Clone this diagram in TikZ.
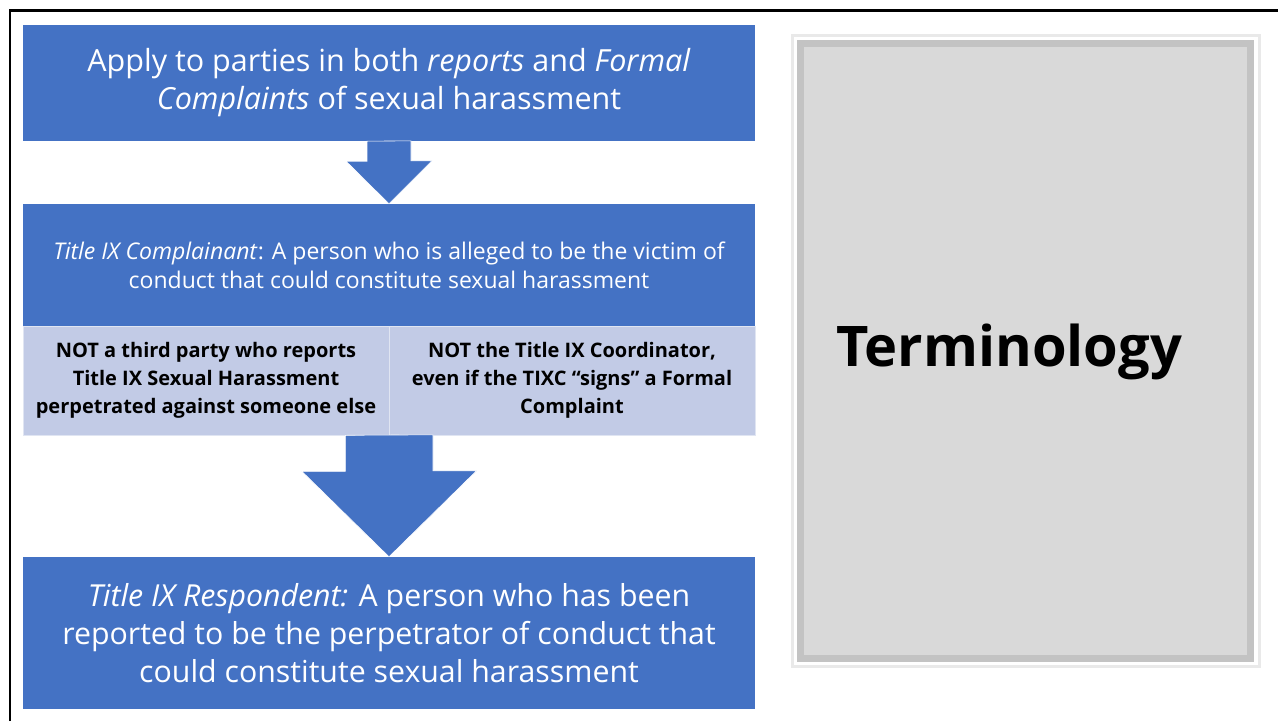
\documentclass[tikz,border=0pt]{standalone}
\usepackage{fontspec}
\setmainfont{Open Sans}
\definecolor{flowblue}{HTML}{4472C4}
\definecolor{flowlight}{HTML}{C2CBE6}
\definecolor{panelgray}{HTML}{D9D9D9}
\definecolor{paneledge}{HTML}{C3C3C3}
\definecolor{panelrim}{HTML}{E9E9E9}
\begin{document}
\begin{tikzpicture}[
		x=1pt, y=-1pt,
		bluebox/.style={fill=flowblue, text=white, minimum width=732pt, align=center, inner sep=0pt},
		notebox/.style={fill=flowlight, draw=white!50!flowlight, line width=0.6pt, minimum width=366pt, minimum height=109pt,
				align=center, inner sep=0pt, font=\bfseries\fontsize{20}{28}\selectfont},
		blockarrow/.style={fill=flowblue, draw=white, line width=0.6pt}
	]
	\useasboundingbox (0,0) rectangle (1278,721);
	\fill[white] (0,0) rectangle (1278,721);
	\draw[line width=2.6pt] (10,721) -- (10,10.5) -- (1278,10.5);

	% flow on the left
	\node[bluebox, minimum height=116pt, font=\fontsize{30.5}{38}\selectfont] (apply) at (389,83)
	{Apply to parties in both \textit{reports} and \textit{Formal}\\\textit{Complaints} of sexual harassment};
	\node[bluebox, minimum height=122pt, font=\fontsize{23}{29}\selectfont] (complainant) at (389,265)
	{\textit{Title IX Complainant}: A person who is alleged to be the victim of\\conduct that could constitute sexual harassment};
	\node[notebox] (notthird) at (206,380.5)
	{NOT a third party who reports\\Title IX Sexual Harassment\\perpetrated against someone else};
	\node[notebox] (notcoord) at (572,380.5)
	{NOT the Title IX Coordinator,\\even if the TIXC “signs” a Formal\\Complaint};
	\node[bluebox, minimum height=152pt, font=\fontsize{30.3}{38}\selectfont] (respondent) at (389,633)
	{\textit{Title IX Respondent:} A person who has been\\reported to be the perpetrator of conduct that\\could constitute sexual harassment};

	\path[blockarrow] (apply.south) ++(-22,0) -- ++(0,20) -- ++(-21,0) -- (complainant.north)
	-- ++(43,-43) -- ++(-21,0) -- ++(0,-20) -- cycle;
	\path[blockarrow] (notthird.south east) ++(-44,0) -- ++(0,36) -- ++(-43.5,0) -- (respondent.north)
	-- ++(87.5,-86) -- ++(-43.5,0) -- ++(0,-36) -- cycle;

	% panel on the right
	\draw[panelrim, line width=3pt] (792.5,35.5) rectangle (1259.5,666.5);
	\node[fill=panelgray, draw=paneledge, line width=7pt, minimum width=450pt, minimum height=615pt] (panel) at (1025.5,351) {};
	\node[anchor=base, font=\bfseries\fontsize{56}{60}\selectfont] (term) at (1009,366) {Terminology};
\end{tikzpicture}
\end{document}
